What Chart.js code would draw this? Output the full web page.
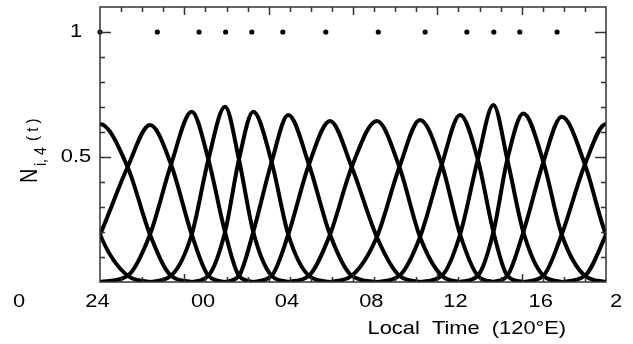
<!DOCTYPE html>
<html>
<head>
<meta charset="utf-8">
<script src="https://cdn.jsdelivr.net/npm/chart.js@4.4.0/dist/chart.umd.min.js"></script>
<style>
  html, body { margin: 0; padding: 0; background: #fff; }
  #wrap { width: 633px; height: 344px; }
</style>
</head>
<body>
<div id="wrap"><canvas id="myChart" width="633" height="344"></canvas></div>
<script>
// knot positions (the dots at N = 1), local time in hours
var knotHours = [0, 2.72, 4.70, 5.96, 7.20, 8.67, 10.71, 13.20, 15.42, 17.40, 18.68, 19.91, 21.68];
var knotLevel = 1;

// sample positions shared by the basis curves (peaks and crossings, wrapped past 0 and 24)
var gridHours = [-5.34, -4.68, -3.92, -2.97, -2.1, -1.0, 0, 1.31, 2.37, 3.37, 4.35, 5.14, 5.93,
  6.59, 7.27, 8.14, 8.93, 9.91, 10.91, 11.94, 13.13, 14.2, 15.18, 16.21, 17.08, 17.92, 18.66,
  19.32, 20.08, 21.03, 21.9, 23.0, 24.0, 25.31, 26.37, 27.37, 28.35, 29.14, 29.93];

// N_i,4 values; curve i starts at gridHours[2 * i]
var basisCurves = [
  [0, 0.025, 0.20, 0.48, 0.661, 0.47, 0.19, 0.025, 0],
  [0, 0.025, 0.19, 0.47, 0.632, 0.46, 0.19, 0.025, 0],
  [0, 0.025, 0.19, 0.46, 0.628, 0.47, 0.19, 0.025, 0],
  [0, 0.025, 0.19, 0.47, 0.681, 0.49, 0.20, 0.025, 0],
  [0, 0.025, 0.19, 0.49, 0.701, 0.49, 0.20, 0.025, 0],
  [0, 0.025, 0.20, 0.49, 0.681, 0.48, 0.19, 0.025, 0],
  [0, 0.025, 0.20, 0.48, 0.668, 0.47, 0.19, 0.025, 0],
  [0, 0.025, 0.19, 0.47, 0.644, 0.46, 0.18, 0.025, 0],
  [0, 0.025, 0.19, 0.46, 0.644, 0.46, 0.18, 0.025, 0],
  [0, 0.025, 0.18, 0.46, 0.648, 0.47, 0.19, 0.025, 0],
  [0, 0.025, 0.18, 0.47, 0.668, 0.49, 0.20, 0.025, 0],
  [0, 0.025, 0.19, 0.49, 0.708, 0.49, 0.20, 0.025, 0],
  [0, 0.025, 0.20, 0.49, 0.674, 0.48, 0.19, 0.025, 0],
  [0, 0.025, 0.20, 0.48, 0.661, 0.47, 0.19, 0.025, 0],
  [0, 0.025, 0.19, 0.47, 0.632, 0.46, 0.19, 0.025, 0],
  [0, 0.025, 0.19, 0.46, 0.628, 0.47, 0.19, 0.025, 0]
];

// axis labels
var xLabelHours = [-3.84, -0.12, 4.89, 8.87, 12.87, 16.86, 20.9, 24.48];
var xLabelText = ["0", "24", "00", "04", "08", "12", "16", "2"];
var xTitle = "Local  Time  (120\u00b0E)";
var yLabelValues = [0.5, 1];
var yLabelText = ["0.5", "1"];
var yTickValues = [0.1, 0.2, 0.3, 0.4, 0.5, 0.6, 0.7, 0.8, 0.9, 1.0];
var yMajorTicks = [0.5, 1.0];

var FONT = "'Liberation Sans', Arial, sans-serif";
var STRETCH = 1.15;

var datasets = [];
basisCurves.forEach(function (row, i) {
  datasets.push({
    data: row.map(function (v, k) { return { x: gridHours[2 * i + k], y: v }; }),
    borderColor: "#000",
    borderWidth: 4,
    pointRadius: 0,
    fill: false,
    cubicInterpolationMode: "monotone"
  });
});
datasets.push({
  data: knotHours.map(function (h) { return { x: h, y: knotLevel }; }),
  showLine: false,
  pointRadius: 2.6,
  pointBackgroundColor: "#000",
  pointBorderWidth: 0,
  clip: false
});

function stretchedText(ctx, txt, x, y, size, align) {
  ctx.save();
  ctx.translate(x, y);
  ctx.scale(STRETCH, 1);
  ctx.font = size + "px " + FONT;
  ctx.textAlign = align;
  ctx.fillText(txt, 0, 0);
  ctx.restore();
}

var idlAxes = {
  id: "idlAxes",
  afterDraw: function (chart) {
    var ctx = chart.ctx, a = chart.chartArea;
    var xs = chart.scales.x, ys = chart.scales.y;
    ctx.save();
    ctx.strokeStyle = "#333";
    ctx.lineWidth = 1.5;
    ctx.strokeRect(a.left, a.top, a.right - a.left, a.bottom - a.top);
    ctx.beginPath();
    for (var h = 1; h < 24; h++) {
      var px = Math.round(xs.getPixelForValue(h)) + 0.5;
      var len = h % 4 === 0 ? 8 : 5;
      ctx.moveTo(px, a.top); ctx.lineTo(px, a.top + len);
      ctx.moveTo(px, a.bottom); ctx.lineTo(px, a.bottom - len);
    }
    yTickValues.forEach(function (v) {
      var py = Math.round(ys.getPixelForValue(v)) + 0.5;
      var len = yMajorTicks.indexOf(v) >= 0 ? 11 : 5;
      ctx.moveTo(a.left, py); ctx.lineTo(a.left + len, py);
      ctx.moveTo(a.right, py); ctx.lineTo(a.right - len, py);
    });
    ctx.stroke();

    ctx.fillStyle = "#000";
    ctx.textBaseline = "middle";
    yLabelValues.forEach(function (v, i) {
      stretchedText(ctx, yLabelText[i], a.left - 24, ys.getPixelForValue(v), 19, "center");
    });
    xLabelHours.forEach(function (h, i) {
      stretchedText(ctx, xLabelText[i], xs.getPixelForValue(h), a.bottom + 20, 19, "center");
    });
    stretchedText(ctx, xTitle, xs.getPixelForValue(17.4), a.bottom + 47, 19, "center");

    // y title N_{i,4} (t), rotated
    ctx.textBaseline = "alphabetic";
    ctx.textAlign = "left";
    ctx.save();
    ctx.translate(37, 183);
    ctx.scale(STRETCH, 1);
    ctx.rotate(-Math.PI / 2);
    ctx.font = "20px " + FONT;
    ctx.fillText("N", 0, 0);
    ctx.font = "14px " + FONT;
    ctx.fillText("i, 4", 17, 8);
    ctx.font = "15px " + FONT;
    ctx.fillText("( t )", 42, 1);
    ctx.restore();
    ctx.restore();
  }
};

var chart = new Chart(document.getElementById("myChart").getContext("2d"), {
  type: "line",
  data: { datasets: datasets },
  options: {
    responsive: false,
    animation: false,
    layout: { padding: { left: 100, right: 27, top: 7, bottom: 62 } },
    plugins: { legend: { display: false }, tooltip: { enabled: false } },
    scales: {
      x: { type: "linear", min: 0, max: 24, display: false },
      y: { type: "linear", min: 0, max: 1.1, display: false }
    }
  },
  plugins: [idlAxes]
});
</script>
</body>
</html>
